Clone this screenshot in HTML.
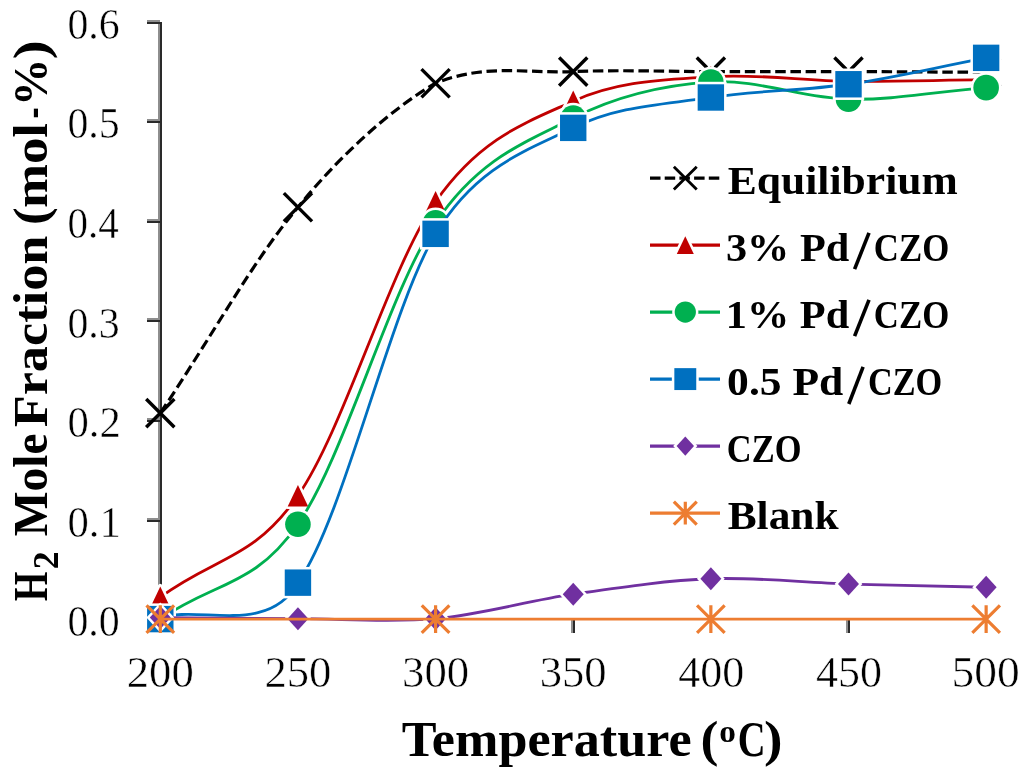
<!DOCTYPE html><html><head><meta charset="utf-8"><title>H2 Mole Fraction vs Temperature</title><style>html,body{margin:0;padding:0;background:#fff;width:1024px;height:776px;overflow:hidden}svg{display:block;will-change:transform}#w{width:1024px;height:776px}</style></head><body>
<div id="w">
<svg width="1024" height="776" viewBox="0 0 1024 776">
<rect width="1024" height="776" fill="#fff"/>
<g shape-rendering="crispEdges">
<rect x="158" y="19.6" width="2" height="600.50" fill="#8e8e8e"/>
<rect x="160" y="21.6" width="2" height="598.50" fill="#2a2a2a"/>
<rect x="147" y="617" width="11" height="2" fill="#8e8e8e"/>
<rect x="147" y="619" width="13" height="2" fill="#2a2a2a"/>
<rect x="147" y="518" width="11" height="2" fill="#8e8e8e"/>
<rect x="147" y="520" width="13" height="2" fill="#2a2a2a"/>
<rect x="147" y="418" width="11" height="2" fill="#8e8e8e"/>
<rect x="147" y="420" width="13" height="2" fill="#2a2a2a"/>
<rect x="147" y="318" width="11" height="2" fill="#8e8e8e"/>
<rect x="147" y="320" width="13" height="2" fill="#2a2a2a"/>
<rect x="147" y="219" width="11" height="2" fill="#8e8e8e"/>
<rect x="147" y="221" width="13" height="2" fill="#2a2a2a"/>
<rect x="147" y="119" width="11" height="2" fill="#8e8e8e"/>
<rect x="147" y="121" width="13" height="2" fill="#2a2a2a"/>
<rect x="147" y="20" width="11" height="2" fill="#8e8e8e"/>
<rect x="147" y="22" width="13" height="2" fill="#2a2a2a"/>
<rect x="160" y="618" width="826.14" height="2" fill="#2a2a2a"/>
<rect x="571" y="619" width="2" height="14" fill="#8e8e8e"/>
<rect x="573" y="619" width="2" height="14" fill="#2a2a2a"/>
<rect x="846" y="619" width="2" height="14" fill="#8e8e8e"/>
<rect x="848" y="619" width="2" height="14" fill="#2a2a2a"/>
</g>
<g font-family="'Liberation Serif', serif" fill="#000" stroke="#fff" stroke-width="0.5" paint-order="fill stroke">
<text x="67.45" y="636.40" font-size="44" textLength="52.30" lengthAdjust="spacingAndGlyphs">0.0</text>
<text x="67.43" y="536.80" font-size="44" textLength="53.31" lengthAdjust="spacingAndGlyphs">0.1</text>
<text x="67.43" y="437.20" font-size="44" textLength="53.31" lengthAdjust="spacingAndGlyphs">0.2</text>
<text x="67.45" y="337.60" font-size="44" textLength="52.30" lengthAdjust="spacingAndGlyphs">0.3</text>
<text x="67.47" y="238.00" font-size="44" textLength="51.33" lengthAdjust="spacingAndGlyphs">0.4</text>
<text x="67.45" y="138.40" font-size="44" textLength="52.30" lengthAdjust="spacingAndGlyphs">0.5</text>
<text x="67.45" y="38.80" font-size="44" textLength="52.30" lengthAdjust="spacingAndGlyphs">0.6</text>
<text x="126.78" y="686.70" font-size="44" textLength="67.03" lengthAdjust="spacingAndGlyphs">200</text>
<text x="264.42" y="686.70" font-size="44" textLength="67.03" lengthAdjust="spacingAndGlyphs">250</text>
<text x="402.06" y="686.70" font-size="44" textLength="67.03" lengthAdjust="spacingAndGlyphs">300</text>
<text x="539.70" y="686.70" font-size="44" textLength="67.03" lengthAdjust="spacingAndGlyphs">350</text>
<text x="678.36" y="686.70" font-size="44" textLength="66.00" lengthAdjust="spacingAndGlyphs">400</text>
<text x="816.00" y="686.70" font-size="44" textLength="66.00" lengthAdjust="spacingAndGlyphs">450</text>
<text x="951.58" y="686.70" font-size="44" textLength="68.10" lengthAdjust="spacingAndGlyphs">500</text>
</g>
<g font-family="'Liberation Serif', serif" fill="#000">
<text x="401.80" y="756.00" font-size="50" font-weight="bold" textLength="289.77" lengthAdjust="spacingAndGlyphs">Temperature</text>
<text x="700.54" y="756.00" font-size="50" font-weight="bold" textLength="17.96" lengthAdjust="spacingAndGlyphs">(</text>
<text x="719.26" y="741.70" font-size="32" font-weight="bold" textLength="16.64" lengthAdjust="spacingAndGlyphs">o</text>
<text x="737.76" y="756.00" font-size="50" font-weight="bold" textLength="27.84" lengthAdjust="spacingAndGlyphs">C</text>
<text x="764.09" y="756.00" font-size="50" font-weight="bold" textLength="18.56" lengthAdjust="spacingAndGlyphs">)</text>
<g transform="rotate(-90)">
<text x="-601.20" y="46.60" font-size="48" font-weight="bold" textLength="29.67" lengthAdjust="spacingAndGlyphs">H</text>
<text x="-569.19" y="57.70" font-size="36" font-weight="bold" textLength="17.89" lengthAdjust="spacingAndGlyphs">2</text>
<text x="-536.30" y="46.60" font-size="48" font-weight="bold" textLength="102.75" lengthAdjust="spacingAndGlyphs">Mole</text>
<text x="-427.30" y="46.60" font-size="48" font-weight="bold" textLength="191.65" lengthAdjust="spacingAndGlyphs">Fraction</text>
<text x="-225.11" y="46.60" font-size="48" font-weight="bold" textLength="17.81" lengthAdjust="spacingAndGlyphs">(</text>
<text x="-208.10" y="46.60" font-size="48" font-weight="bold" textLength="85.06" lengthAdjust="spacingAndGlyphs">mol</text>
<text x="-118.39" y="46.60" font-size="48" font-weight="bold" textLength="11.07" lengthAdjust="spacingAndGlyphs">-</text>
<text x="-105.95" y="46.60" font-size="48" font-weight="bold" textLength="47.40" lengthAdjust="spacingAndGlyphs">%</text>
<text x="-59.41" y="46.60" font-size="48" font-weight="bold" textLength="19.41" lengthAdjust="spacingAndGlyphs">)</text>
</g></g>
<path d="M160.30,413.13 C215.36,330.78 252.06,262.23 297.94,207.25 C335.33,160.83 388.25,110.42 435.58,83.25 C485.14,63.20 526.36,73.60 573.22,71.60 C619.10,69.66 664.98,71.60 710.86,71.60 C756.74,71.60 802.62,71.48 848.50,71.60 C894.38,71.71 931.08,72.02 986.14,72.30" fill="none" stroke="#000000" stroke-width="3.2" stroke-dasharray="10.5 4.7"/>
<path d="M146.20,399.03 L174.40,427.23 M146.20,427.23 L174.40,399.03" stroke="#000" stroke-width="3.40" fill="none"/>
<path d="M283.84,193.15 L312.04,221.35 M283.84,221.35 L312.04,193.15" stroke="#000" stroke-width="3.40" fill="none"/>
<path d="M421.48,69.15 L449.68,97.35 M421.48,97.35 L449.68,69.15" stroke="#000" stroke-width="3.40" fill="none"/>
<path d="M559.12,57.50 L587.32,85.70 M559.12,85.70 L587.32,57.50" stroke="#000" stroke-width="3.40" fill="none"/>
<path d="M696.76,57.50 L724.96,85.70 M696.76,85.70 L724.96,57.50" stroke="#000" stroke-width="3.40" fill="none"/>
<path d="M834.40,57.50 L862.60,85.70 M834.40,85.70 L862.60,57.50" stroke="#000" stroke-width="3.40" fill="none"/>
<path d="M972.04,58.20 L1000.24,86.40 M972.04,86.40 L1000.24,58.20" stroke="#000" stroke-width="3.40" fill="none"/>
<path d="M160.30,597.19 C215.36,556.59 252.99,560.26 297.94,495.70 C343.82,429.79 389.70,267.53 435.58,201.78 C480.46,137.46 527.34,122.01 573.22,101.18 C619.10,80.35 664.98,80.10 710.86,76.78 C756.74,73.46 802.62,80.78 848.50,81.26 C894.38,81.74 931.08,80.30 986.14,79.67" fill="none" stroke="#C00000" stroke-width="2.8"/>
<path d="M160.30,586.44L170.55,607.94L150.05,607.94Z" fill="#C00000" stroke="#fff" stroke-width="5" paint-order="stroke" stroke-linejoin="round"/>
<path d="M297.94,484.95L308.19,506.45L287.69,506.45Z" fill="#C00000" stroke="#fff" stroke-width="5" paint-order="stroke" stroke-linejoin="round"/>
<path d="M435.58,191.03L445.83,212.53L425.33,212.53Z" fill="#C00000" stroke="#fff" stroke-width="5" paint-order="stroke" stroke-linejoin="round"/>
<path d="M573.22,90.43L583.47,111.93L562.97,111.93Z" fill="#C00000" stroke="#fff" stroke-width="5" paint-order="stroke" stroke-linejoin="round"/>
<path d="M710.86,66.03L721.11,87.53L700.61,87.53Z" fill="#C00000" stroke="#fff" stroke-width="5" paint-order="stroke" stroke-linejoin="round"/>
<path d="M848.50,70.51L858.75,92.01L838.25,92.01Z" fill="#C00000" stroke="#fff" stroke-width="5" paint-order="stroke" stroke-linejoin="round"/>
<path d="M986.14,68.92L996.39,90.42L975.89,90.42Z" fill="#C00000" stroke="#fff" stroke-width="5" paint-order="stroke" stroke-linejoin="round"/>
<path d="M160.30,619.10 C215.36,581.13 254.07,587.35 297.94,524.18 C343.82,458.11 389.70,290.37 435.58,222.69 C480.20,156.87 527.34,141.57 573.22,118.11 C619.10,94.66 664.98,85.11 710.86,81.96 C756.74,78.80 802.62,98.24 848.50,99.19 C894.38,100.13 931.08,92.26 986.14,87.63" fill="none" stroke="#00B050" stroke-width="2.8"/>
<circle cx="160.30" cy="619.10" r="12.80" fill="#00B050" stroke="#fff" stroke-width="5" paint-order="stroke"/>
<circle cx="297.94" cy="524.18" r="12.80" fill="#00B050" stroke="#fff" stroke-width="5" paint-order="stroke"/>
<circle cx="435.58" cy="222.69" r="12.80" fill="#00B050" stroke="#fff" stroke-width="5" paint-order="stroke"/>
<circle cx="573.22" cy="118.11" r="12.80" fill="#00B050" stroke="#fff" stroke-width="5" paint-order="stroke"/>
<circle cx="710.86" cy="81.96" r="12.80" fill="#00B050" stroke="#fff" stroke-width="5" paint-order="stroke"/>
<circle cx="848.50" cy="99.19" r="12.80" fill="#00B050" stroke="#fff" stroke-width="5" paint-order="stroke"/>
<circle cx="986.14" cy="87.63" r="12.80" fill="#00B050" stroke="#fff" stroke-width="5" paint-order="stroke"/>
<path d="M160.30,619.10 C193.37,602.86 267.25,638.02 297.94,582.65 C343.82,518.44 389.70,309.64 435.58,233.85 C476.96,165.49 527.34,150.60 573.22,127.87 C619.10,105.15 664.98,104.77 710.86,97.49 C756.74,90.22 802.62,90.85 848.50,84.25 C894.38,77.64 931.08,68.41 986.14,57.85" fill="none" stroke="#0070C0" stroke-width="2.8"/>
<rect x="147.10" y="605.90" width="26.40" height="26.40" fill="#0070C0" stroke="#fff" stroke-width="5" paint-order="stroke"/>
<rect x="284.74" y="569.45" width="26.40" height="26.40" fill="#0070C0" stroke="#fff" stroke-width="5" paint-order="stroke"/>
<rect x="422.38" y="220.65" width="26.40" height="26.40" fill="#0070C0" stroke="#fff" stroke-width="5" paint-order="stroke"/>
<rect x="560.02" y="114.67" width="26.40" height="26.40" fill="#0070C0" stroke="#fff" stroke-width="5" paint-order="stroke"/>
<rect x="697.66" y="84.29" width="26.40" height="26.40" fill="#0070C0" stroke="#fff" stroke-width="5" paint-order="stroke"/>
<rect x="835.30" y="71.05" width="26.40" height="26.40" fill="#0070C0" stroke="#fff" stroke-width="5" paint-order="stroke"/>
<rect x="972.94" y="44.65" width="26.40" height="26.40" fill="#0070C0" stroke="#fff" stroke-width="5" paint-order="stroke"/>
<path d="M160.30,617.61 C215.36,618.04 252.06,618.52 297.94,618.70 C343.82,618.88 389.70,622.79 435.58,618.70 C481.46,614.62 527.34,600.86 573.22,594.20 C619.10,587.54 664.98,580.46 710.86,578.76 C756.74,577.07 802.62,582.63 848.50,584.04 C894.38,585.45 931.08,585.95 986.14,587.23" fill="none" stroke="#7030A0" stroke-width="2.8"/>
<path d="M160.30,606.11L170.80,617.61L160.30,629.11L149.80,617.61Z" fill="#7030A0" stroke="#fff" stroke-width="5" paint-order="stroke" stroke-linejoin="miter"/>
<path d="M297.94,607.20L308.44,618.70L297.94,630.20L287.44,618.70Z" fill="#7030A0" stroke="#fff" stroke-width="5" paint-order="stroke" stroke-linejoin="miter"/>
<path d="M435.58,607.20L446.08,618.70L435.58,630.20L425.08,618.70Z" fill="#7030A0" stroke="#fff" stroke-width="5" paint-order="stroke" stroke-linejoin="miter"/>
<path d="M573.22,582.70L583.72,594.20L573.22,605.70L562.72,594.20Z" fill="#7030A0" stroke="#fff" stroke-width="5" paint-order="stroke" stroke-linejoin="miter"/>
<path d="M710.86,567.26L721.36,578.76L710.86,590.26L700.36,578.76Z" fill="#7030A0" stroke="#fff" stroke-width="5" paint-order="stroke" stroke-linejoin="miter"/>
<path d="M848.50,572.54L859.00,584.04L848.50,595.54L838.00,584.04Z" fill="#7030A0" stroke="#fff" stroke-width="5" paint-order="stroke" stroke-linejoin="miter"/>
<path d="M986.14,575.73L996.64,587.23L986.14,598.73L975.64,587.23Z" fill="#7030A0" stroke="#fff" stroke-width="5" paint-order="stroke" stroke-linejoin="miter"/>
<path d="M160.30,619.10 H986.14" fill="none" stroke="#ED7D31" stroke-width="2.6"/>
<path d="M146.50,605.30 L174.10,632.90 M146.50,632.90 L174.10,605.30 M160.30,605.30 L160.30,632.90" stroke="#ED7D31" stroke-width="3.2" fill="none"/>
<path d="M421.78,605.30 L449.38,632.90 M421.78,632.90 L449.38,605.30 M435.58,605.30 L435.58,632.90" stroke="#ED7D31" stroke-width="3.2" fill="none"/>
<path d="M697.06,605.30 L724.66,632.90 M697.06,632.90 L724.66,605.30 M710.86,605.30 L710.86,632.90" stroke="#ED7D31" stroke-width="3.2" fill="none"/>
<path d="M972.34,605.30 L999.94,632.90 M972.34,632.90 L999.94,605.30 M986.14,605.30 L986.14,632.90" stroke="#ED7D31" stroke-width="3.2" fill="none"/>
<path d="M650,178.10 H720" stroke="#000000" stroke-width="3.4" stroke-dasharray="10.5 4.2"/>
<path d="M673.85,166.65 L696.75,189.55 M673.85,189.55 L696.75,166.65" stroke="#000" stroke-width="2.82" fill="none"/>
<path d="M650,245.10 H720" stroke="#C00000" stroke-width="3.4"/>
<path d="M685.30,236.18L693.81,254.02L676.79,254.02Z" fill="#C00000" stroke="#fff" stroke-width="5" paint-order="stroke" stroke-linejoin="round"/>
<path d="M650,312.10 H720" stroke="#00B050" stroke-width="3.4"/>
<circle cx="685.30" cy="312.10" r="10.62" fill="#00B050" stroke="#fff" stroke-width="5" paint-order="stroke"/>
<path d="M650,379.10 H720" stroke="#0070C0" stroke-width="3.4"/>
<rect x="674.34" y="368.14" width="21.91" height="21.91" fill="#0070C0" stroke="#fff" stroke-width="5" paint-order="stroke"/>
<path d="M650,446.10 H720" stroke="#7030A0" stroke-width="3.4"/>
<path d="M685.30,436.56L694.01,446.10L685.30,455.65L676.58,446.10Z" fill="#7030A0" stroke="#fff" stroke-width="5" paint-order="stroke" stroke-linejoin="miter"/>
<path d="M650,513.10 H720" stroke="#ED7D31" stroke-width="3.4"/>
<path d="M673.85,501.65 L696.75,524.55 M673.85,524.55 L696.75,501.65 M685.30,501.65 L685.30,524.55" stroke="#ED7D31" stroke-width="3.2" fill="none"/>
<g font-family="'Liberation Serif', serif" fill="#000">
<text x="727.70" y="194.30" font-size="41" font-weight="bold" textLength="230.11" lengthAdjust="spacingAndGlyphs">Equilibrium</text>
<text x="725.97" y="261.30" font-size="41" font-weight="bold" textLength="123.23" lengthAdjust="spacingAndGlyphs">3% Pd</text>
<text x="873.85" y="261.30" font-size="41" font-weight="bold" textLength="75.38" lengthAdjust="spacingAndGlyphs">CZO</text>
<text x="725.81" y="328.30" font-size="41" font-weight="bold" textLength="123.39" lengthAdjust="spacingAndGlyphs">1% Pd</text>
<text x="873.85" y="328.30" font-size="41" font-weight="bold" textLength="75.38" lengthAdjust="spacingAndGlyphs">CZO</text>
<text x="727.14" y="395.30" font-size="41" font-weight="bold" textLength="116.24" lengthAdjust="spacingAndGlyphs">0.5 Pd</text>
<text x="867.96" y="395.30" font-size="41" font-weight="bold" textLength="74.25" lengthAdjust="spacingAndGlyphs">CZO</text>
<text x="726.86" y="462.30" font-size="41" font-weight="bold" textLength="74.66" lengthAdjust="spacingAndGlyphs">CZO</text>
<text x="727.70" y="529.30" font-size="41" font-weight="bold" textLength="110.93" lengthAdjust="spacingAndGlyphs">Blank</text>
</g>
<path d="M854.60,269.20 L869.00,232.80" stroke="#000" stroke-width="3.6"/>
<path d="M854.60,336.20 L869.00,299.80" stroke="#000" stroke-width="3.6"/>
<path d="M848.80,404.00 L863.10,366.90" stroke="#000" stroke-width="3.6"/>
</svg></div></body></html>
